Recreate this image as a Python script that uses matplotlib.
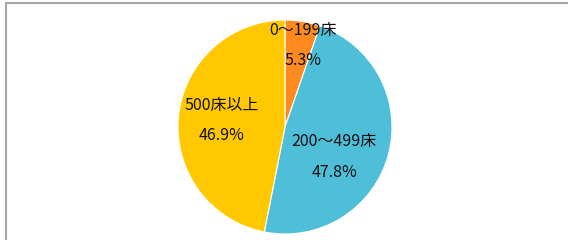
import matplotlib
matplotlib.use("Agg")
import matplotlib.pyplot as plt
from matplotlib.patches import Rectangle

plt.rcParams['font.family'] = ['Noto Sans CJK JP', 'DejaVu Sans']

labels = ['0～199床', '200～499床', '500床以上']
shares = [5.3, 47.8, 46.9]
colors = ['#FF8A1F', '#4FBED9', '#FFC800']
# label centres, in units of the pie radius
label_pos = [(0.17, 0.76), (0.46, -0.28), (-0.59, 0.06)]

fig = plt.figure(figsize=(5.68, 2.4), dpi=100)
# frame of the chart area (cut off at right and bottom)
fig.patches.append(Rectangle((6 / 568, -0.1), 1.2, 237 / 240 + 0.1,
                             transform=fig.transFigure, fill=False,
                             edgecolor='#A6A6A6', linewidth=1.5))

# pie: centre (285,127) px, radius ~107 px
r_px = 107
ax = fig.add_axes([(285 - r_px) / 568, (240 - 127 - r_px) / 240,
                   2 * r_px / 568, 2 * r_px / 240])
ax.pie(shares, colors=colors, startangle=90, counterclock=False, radius=1,
       wedgeprops=dict(linewidth=0.8, edgecolor='white'))
ax.set_xlim(-1, 1)
ax.set_ylim(-1, 1)
ax.set_aspect('auto')
ax.axis('off')

for lab, val, (x, y) in zip(labels, shares, label_pos):
    ax.text(x, y, f'{lab}\n\n{val:.1f}%', ha='center', va='center',
            fontsize=11.5, color='#111111', linespacing=0.86)

fig.savefig('out.png', dpi=100)
